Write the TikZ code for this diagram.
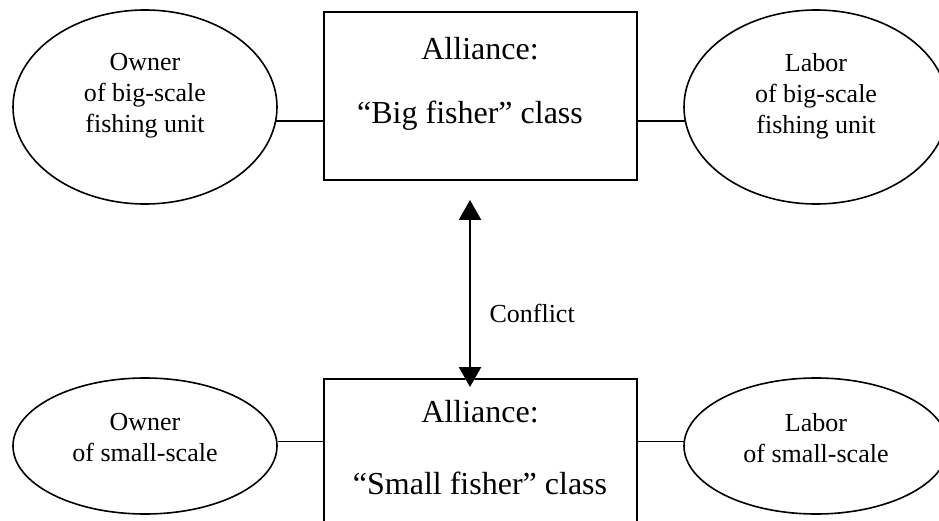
\documentclass[tikz,border=0pt]{standalone}
\usepackage{fontspec}
\setmainfont{Liberation Serif}
\usetikzlibrary{shapes.geometric,arrows.meta}
\begin{document}
\begin{tikzpicture}[x=1pt,y=1pt,
  party/.style={draw,line width=1.6pt,ellipse,minimum width=264pt,inner sep=0pt},
  classbox/.style={draw,line width=1.6pt,rectangle,minimum width=313pt,inner sep=0pt},
  small/.style={font=\fontsize{26}{31}\selectfont,align=center},
  big/.style={font=\fontsize{32}{38}\selectfont,align=center},
  link/.style={line width=1.6pt},
  conflict/.style={line width=2.6pt,{Triangle[width=22pt,length=20pt]}-{Triangle[width=22pt,length=20pt]}}]
\useasboundingbox (0,0) rectangle (939,520);

% upper alliance
\node[classbox,minimum height=168pt] (tb) at (480.5,424) {};
\node[big] (tbA) at (480,471) {Alliance:};
\node[big] (tbB) at (470,404) {“Big fisher” class};
\node[party,minimum height=194pt] (tl) at (145,413) {};
\node[small] (tlt) at (145,424) {Owner\\of big-scale\\fishing unit};
\node[party,minimum height=194pt] (tr) at (816,413) {};
\node[small] (trt) at (816,424) {Labor\\of big-scale\\fishing unit};
\draw[link] (tl.-6) -- (tl.-6 -| tb.west);
\draw[link] (tr.186) -- (tr.186 -| tb.east);

% lower alliance
\node[classbox,minimum height=170pt] (bb) at (480.5,56) {};
\node[big] (bbA) at (480,108) {Alliance:};
\node[big] (bbB) at (480,37) {“Small fisher” class};
\node[party,minimum height=136pt] (bl) at (145,74) {};
\node[small] (blt) at (145,82) {Owner\\of small-scale};
\node[party,minimum height=136pt] (br) at (816,74) {};
\node[small] (brt) at (816,82) {Labor\\of small-scale};
\draw[link] (bl.2) -- (bl.2 -| bb.west);
\draw[link] (br.178) -- (br.178 -| bb.east);

% conflict between the two classes
\coordinate (up) at (470,320);
\coordinate (down) at (470,133);
\draw[conflict] (down) -- (up);
\node[small,anchor=west] (conf) at (486,207) {Conflict};
\end{tikzpicture}
\end{document}
